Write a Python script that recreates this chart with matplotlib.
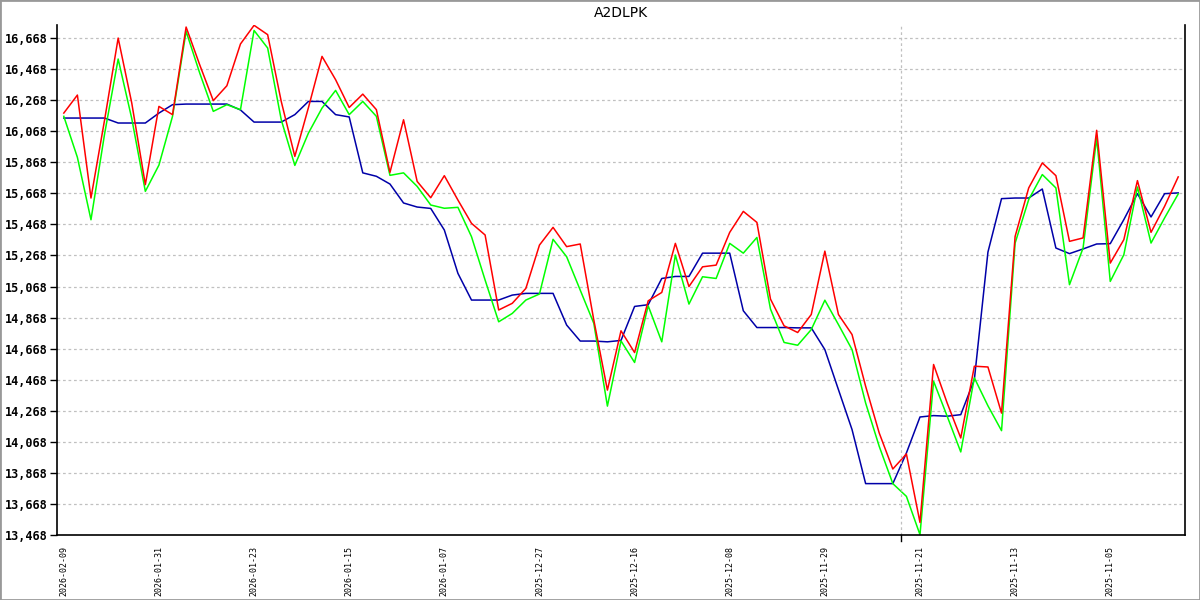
import matplotlib
matplotlib.use("Agg")
import matplotlib.pyplot as plt
from matplotlib.patches import Rectangle

title = "A2DLPK"

date_labels = ["2026-02-09", "2026-01-31", "2026-01-23", "2026-01-15",
               "2026-01-07", "2025-12-27", "2025-12-16", "2025-12-08",
               "2025-11-29", "2025-11-21", "2025-11-13", "2025-11-05"]

red = [16185, 16301, 15638, 16140, 16668, 16250, 15724, 16228, 16175, 16739,
       16496, 16265, 16361, 16630, 16750, 16690, 16260, 15906, 16220, 16550,
       16400, 16221, 16307, 16207, 15803, 16142, 15745, 15640, 15782, 15625,
       15475, 15400, 14917, 14960, 15056, 15335, 15449, 15325, 15342, 14852,
       14401, 14783, 14643, 14976, 15030, 15346, 15068, 15195, 15206, 15417,
       15552, 15481, 14987, 14815, 14772, 14888, 15296, 14888, 14759, 14426,
       14125, 13893, 13990, 13549, 14566, 14318, 14093, 14555, 14550, 14253,
       15391, 15703, 15864, 15782, 15359, 15381, 16074, 15219, 15370, 15750,
       15417, 15585, 15774]

green = [16164, 15900, 15498, 16050, 16533, 16150, 15681, 15850, 16164, 16711,
         16443, 16196, 16239, 16207, 16717, 16604, 16142, 15848, 16056, 16217,
         16331, 16175, 16260, 16164, 15784, 15800, 15713, 15593, 15572, 15578,
         15389, 15110, 14841, 14895, 14981, 15020, 15372, 15260, 15045, 14831,
         14298, 14718, 14579, 14944, 14712, 15271, 14955, 15131, 15120, 15346,
         15283, 15384, 14923, 14708, 14690, 14791, 14980, 14823, 14662, 14318,
         14039, 13799, 13717, 13470, 14458, 14233, 14003, 14480, 14300, 14140,
         15348, 15628, 15789, 15703, 15080, 15316, 16025, 15101, 15273, 15709,
         15348, 15510, 15664]

blue = [16153, 16153, 16153, 16153, 16121, 16121, 16121, 16185, 16239, 16243,
        16243, 16243, 16243, 16205, 16127, 16127, 16127, 16175, 16260, 16260,
        16175, 16160, 15800, 15778, 15728, 15606, 15580, 15571, 15432, 15153,
        14981, 14981, 14981, 15013, 15024, 15024, 15024, 14820, 14717, 14717,
        14712, 14721, 14940, 14951, 15120, 15133, 15133, 15283, 15283, 15283,
        14912, 14804, 14804, 14804, 14802, 14802, 14662, 14404, 14147, 13799,
        13799, 13799, 13996, 14228, 14237, 14233, 14243, 14469, 15290, 15634,
        15638, 15638, 15696, 15316, 15280, 15310, 15342, 15344, 15499, 15666,
        15516, 15666, 15671]

y_ticks = [13468, 13668, 13868, 14068, 14268, 14468, 14668,
           14868, 15068, 15268, 15468, 15668, 15868, 16068,
           16268, 16468, 16668]
marker_pos = 61.6

fig = plt.figure(figsize=(12, 6), dpi=100)
ax = fig.add_axes([0.0475, 0.1083, 0.94, 0.85])

x = list(range(len(red)))
ax.plot(x, blue, color="#0000a8", lw=1.1)
ax.plot(x, green, color="#00ff00", lw=1.1)
ax.plot(x, red, color="#ff0000", lw=1.1)

ax.set_xlim(-0.5, len(red) - 0.5)
ax.set_ylim(13468, 16752)

ax.set_yticks(y_ticks)
ax.set_yticklabels([f"{v:,}" for v in y_ticks],
                   fontfamily="DejaVu Sans Mono", fontweight="bold", fontsize=8.5)
ax.yaxis.grid(True, color="#c0c0c0", linestyle=(0, (2.2, 2.2)), lw=0.9)
ax.tick_params(axis="y", length=5, width=1, pad=2)

ax.set_xticks(range(0, 7 * len(date_labels), 7))
ax.set_xticklabels(date_labels, rotation=90, fontfamily="DejaVu Sans Mono",
                   fontsize=6)
ax.tick_params(axis="x", length=0, pad=8)

ax.axvline(marker_pos, color="#c0c0c0", linestyle=(0, (2.2, 2.2)), lw=0.9)
ax.plot([marker_pos, marker_pos], [0, -0.012], color="black", lw=1,
        transform=ax.get_xaxis_transform(), clip_on=False)

ax.spines["top"].set_visible(False)
for s in ["left", "bottom", "right"]:
    ax.spines[s].set_linewidth(1.2)

ax.set_title(title, fontsize=10, pad=6)

fig.patches.append(Rectangle((0, 0), 1, 1, transform=fig.transFigure,
                             fill=False, edgecolor="#999999", lw=2))

fig.savefig("out.png", dpi=100)
